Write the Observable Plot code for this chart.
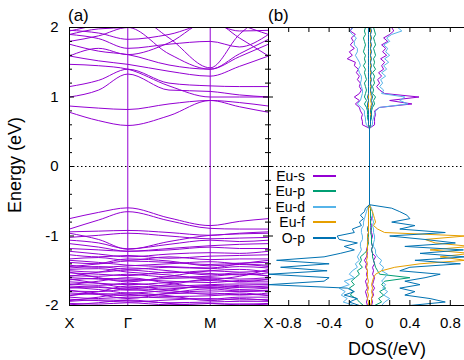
<!DOCTYPE html>
<html><head><meta charset="utf-8">
<script src="https://cdn.jsdelivr.net/npm/d3@7"></script>
<script src="https://cdn.jsdelivr.net/npm/@observablehq/plot@0.6"></script>
<style>
html,body{margin:0;padding:0;background:#fff;overflow:hidden;}
#wrap{position:relative;width:464px;height:360px;overflow:hidden;font-family:"Liberation Sans",Arial,Helvetica,sans-serif;color:#000;}
#wrap svg{position:absolute;top:0;}
.lbl{position:absolute;white-space:nowrap;color:#000;}
</style></head><body><div id="wrap"></div>
<script>
// ---------- band structure data ----------
const kLabels = ["X", "Γ", "M", "X"];
const kTicks = [0, 1, 2.4142, 3.4142];
const kNodes = [0, 0.5, 1, 1.7071, 2.4142, 2.9142, 3.4142];
const conductionBands = [
  [0.78, 0.66, 0.59, 0.73, 0.95, 0.86, 0.78],
  [0.87, 0.84, 0.82, 0.90, 0.95, 0.92, 0.87],
  [1.00, 1.10, 1.33, 1.10, 1.08, 1.03, 1.00],
  [1.15, 1.24, 1.40, 1.20, 1.16, 1.15, 1.15],
  [1.47, 1.45, 1.40, 1.16, 1.00, 1.00, 1.00],
  [1.59, 1.52, 1.47, 1.37, 1.30, 1.44, 1.59],
  [1.76, 1.66, 1.61, 1.46, 1.40, 1.58, 1.76],
  [1.80, 1.88, 2.00, 1.62, 1.40, 1.62, 1.83],
  [1.95, 2.05, 2.20, 1.85, 1.42, 1.90, 2.20],
  [1.90, 1.84, 1.70, 1.76, 1.80, 1.72, 1.90],
  [1.96, 1.92, 1.83, 1.90, 2.05, 1.95, 1.96],
  [2.15, 2.05, 2.00, 2.10, 2.20, 2.10, 2.15],
  [1.59, 1.70, 1.61, 1.78, 2.10, 1.85, 1.59],
  [1.90, 1.98, 2.00, 2.05, 2.25, 2.05, 1.90]
];
const valenceBands = [
  [-0.75, -0.66, -0.595, -0.74, -0.85, -0.79, -0.75],
  [-0.90, -0.77, -0.65, -0.78, -0.89, -0.90, -0.90],
  [-0.94, -0.93, -0.92, -0.95, -0.99, -0.96, -0.94],
  [-1.02, -0.99, -0.96, -1.00, -1.04, -1.03, -1.02],
  [-0.96, -1.05, -1.19, -1.08, -0.99, -0.97, -0.96],
  [-1.06, -1.10, -1.185, -1.12, -1.06, -1.08, -1.06],
  [-1.11, -1.16, -1.22, -1.18, -1.14, -1.12, -1.11],
  [-1.18, -1.20, -1.22, -1.20, -1.16, -1.18, -1.18],
  [-1.22, -1.26, -1.30, -1.26, -1.24, -1.25, -1.22],
  [-1.27, -1.30, -1.28, -1.32, -1.29, -1.28, -1.27],
  [-1.33, -1.31, -1.35, -1.30, -1.34, -1.33, -1.33],
  [-1.38, -1.40, -1.36, -1.38, -1.41, -1.39, -1.38],
  [-1.42, -1.45, -1.43, -1.40, -1.37, -1.40, -1.42],
  [-1.46, -1.44, -1.48, -1.45, -1.47, -1.44, -1.46],
  [-1.50, -1.52, -1.49, -1.53, -1.50, -1.52, -1.50],
  [-1.53, -1.55, -1.57, -1.52, -1.54, -1.56, -1.53],
  [-1.57, -1.58, -1.55, -1.59, -1.58, -1.55, -1.57],
  [-1.60, -1.62, -1.64, -1.61, -1.60, -1.62, -1.60],
  [-1.63, -1.61, -1.62, -1.65, -1.67, -1.64, -1.63],
  [-1.66, -1.68, -1.70, -1.67, -1.64, -1.66, -1.66],
  [-1.69, -1.71, -1.68, -1.72, -1.70, -1.69, -1.69],
  [-1.72, -1.74, -1.76, -1.73, -1.75, -1.74, -1.72],
  [-1.75, -1.73, -1.78, -1.76, -1.73, -1.77, -1.75],
  [-1.79, -1.80, -1.77, -1.81, -1.79, -1.80, -1.79],
  [-1.82, -1.84, -1.86, -1.83, -1.82, -1.85, -1.82],
  [-1.85, -1.83, -1.84, -1.87, -1.86, -1.84, -1.85],
  [-1.88, -1.90, -1.88, -1.89, -1.91, -1.88, -1.88],
  [-1.91, -1.93, -1.95, -1.92, -1.90, -1.92, -1.91],
  [-1.94, -1.92, -1.93, -1.96, -1.95, -1.94, -1.94],
  [-1.97, -1.98, -1.96, -1.99, -1.97, -1.98, -1.97],
  [-1.44, -1.40, -1.33, -1.36, -1.43, -1.41, -1.44],
  [-1.58, -1.52, -1.46, -1.50, -1.56, -1.53, -1.58],
  [-1.52, -1.60, -1.66, -1.58, -1.50, -1.48, -1.52],
  [-1.70, -1.65, -1.60, -1.68, -1.74, -1.71, -1.70],
  [-1.78, -1.84, -1.90, -1.82, -1.76, -1.79, -1.78],
  [-1.62, -1.68, -1.74, -1.70, -1.62, -1.66, -1.62],
  [-1.86, -1.80, -1.72, -1.78, -1.84, -1.82, -1.86],
  [-1.35, -1.38, -1.42, -1.44, -1.46, -1.40, -1.35],
  [-1.48, -1.47, -1.52, -1.56, -1.62, -1.58, -1.48],
  [-1.93, -1.88, -1.82, -1.86, -1.93, -1.90, -1.93],
  [-1.99, -1.96, -1.92, -1.97, -2.00, -1.98, -1.99],
  [-1.74, -1.77, -1.82, -1.78, -1.71, -1.73, -1.74]
];

// ---------- DOS data ----------
const dosE = [-2.00,-1.95,-1.90,-1.85,-1.80,-1.75,-1.70,-1.65,-1.60,-1.55,-1.50,-1.45,-1.40,-1.35,-1.30,-1.25,-1.20,-1.15,-1.10,-1.05,-1.00,-0.95,-0.90,-0.85,-0.80,-0.75,-0.70,-0.65,-0.60,-0.55,
  0.55,0.60,0.65,0.70,0.75,0.80,0.85,0.90,0.95,1.00,1.05,1.10,1.15,1.20,1.25,1.30,1.35,1.40,1.45,1.50,1.55,1.60,1.65,1.70,1.75,1.80,1.85,1.90,1.95,2.00];
const euSUp = [0.02,0.03,0.02,0.04,0.03,0.05,0.03,0.04,0.05,0.03,0.04,0.03,0.05,0.04,0.06,0.03,0.02,0.03,0.02,0.02,0.03,0.02,0.01,0.02,0.01,0.02,0.01,0.01,0.01,0,
  0,0.05,0.05,0.05,0.06,0.05,0.10,0.42,0.20,0.49,0.15,0.10,0.07,0.10,0.08,0.12,0.09,0.14,0.12,0.15,0.11,0.17,0.13,0.16,0.12,0.18,0.14,0.20,0.24,0.22];
const euSDown = [-0.02,-0.03,-0.02,-0.03,-0.04,-0.02,-0.03,-0.04,-0.02,-0.03,-0.02,-0.04,-0.03,-0.05,-0.03,-0.02,-0.03,-0.02,-0.02,-0.01,-0.02,-0.01,-0.02,-0.01,-0.01,-0.01,-0.01,-0.01,-0.01,0,
  0,-0.07,-0.07,-0.08,-0.07,-0.09,-0.10,-0.14,-0.10,-0.15,-0.10,-0.08,-0.10,-0.09,-0.12,-0.10,-0.13,-0.11,-0.15,-0.14,-0.22,-0.17,-0.20,-0.15,-0.19,-0.16,-0.18,-0.14,-0.19,-0.17];
const euPUp = [0.05,0.12,0.09,0.14,0.10,0.16,0.12,0.15,0.40,0.10,0.08,0.06,0.05,0.04,0.03,0.03,0.02,0.03,0.02,0.02,0.02,0.01,0.02,0.01,0.01,0.01,0.01,0.01,0.01,0,
  0,0.01,0.01,0.02,0.02,0.02,0.03,0.05,0.04,0.06,0.03,0.04,0.03,0.05,0.04,0.05,0.03,0.06,0.04,0.05,0.04,0.06,0.05,0.04,0.06,0.05,0.04,0.06,0.05,0.04];
const euPDown = [-0.06,-0.10,-0.13,-0.19,-0.16,-0.20,-0.15,-0.18,-0.14,-0.10,-0.12,-0.07,-0.10,-0.08,-0.09,-0.05,-0.02,-0.02,-0.01,-0.02,-0.01,-0.01,-0.02,-0.01,-0.01,-0.01,-0.01,-0.01,-0.01,0,
  0,-0.01,-0.01,-0.02,-0.02,-0.02,-0.03,-0.05,-0.03,-0.05,-0.04,-0.03,-0.04,-0.05,-0.03,-0.04,-0.05,-0.04,-0.06,-0.04,-0.05,-0.04,-0.06,-0.05,-0.04,-0.05,-0.06,-0.04,-0.05,-0.04];
const euDUp = [0.12,0.15,0.20,0.14,0.18,0.13,0.16,0.12,0.15,0.18,0.12,0.14,0.10,0.12,0.08,0.06,0.06,0.04,0.04,0.05,0.05,0.04,0.04,0.03,0.04,0.03,0.03,0.03,0.02,0,
  0,0.03,0.03,0.04,0.05,0.06,0.10,0.38,0.30,0.35,0.12,0.14,0.10,0.13,0.11,0.16,0.12,0.17,0.14,0.19,0.15,0.20,0.16,0.18,0.14,0.20,0.17,0.22,0.32,0.28];
const euDDown = [-0.15,-0.26,-0.22,-0.28,-0.24,-0.30,-0.20,-0.25,-0.15,-0.20,-0.17,-0.12,-0.14,-0.10,-0.12,-0.10,-0.08,-0.09,-0.09,-0.07,-0.07,-0.08,-0.08,-0.06,-0.06,-0.05,-0.04,-0.03,-0.02,0,
  0,-0.03,-0.04,-0.04,-0.05,-0.05,-0.08,-0.12,-0.09,-0.08,-0.07,-0.07,-0.08,-0.09,-0.08,-0.08,-0.10,-0.11,-0.09,-0.10,-0.12,-0.14,-0.12,-0.12,-0.15,-0.15,-0.13,-0.17,-0.20,-0.16];
const euFUp = [0.01,0.02,0.02,0.03,0.02,0.03,0.02,0.03,0.04,0.06,0.12,0.25,0.50,0.95,0.70,1.00,0.60,1.00,0.65,0.55,0.95,0.15,0.08,0.04,0.06,0.05,0.04,0.03,0.01,0,
  0,0.01,0.01,0.01,0.01,0.01,0.01,0.02,0.01,0.02,0.01,0.01,0.01,0.01,0.01,0.01,0.01,0.01,0.01,0.01,0.01,0.01,0.01,0.01,0.01,0.01,0.01,0.01,0.01,0.01];
const euFDown = [-0.01,-0.01,-0.02,-0.01,-0.02,-0.01,-0.02,-0.01,-0.02,-0.02,-0.02,-0.03,-0.02,-0.03,-0.02,-0.03,-0.02,-0.02,-0.02,-0.01,-0.02,-0.01,-0.01,-0.01,-0.01,-0.01,-0.01,-0.01,-0.01,0,
  0,-0.01,-0.01,-0.01,-0.01,-0.01,-0.01,-0.01,-0.01,-0.01,-0.01,-0.01,-0.01,-0.01,-0.01,-0.01,-0.01,-0.01,-0.01,-0.01,-0.01,-0.01,-0.01,-0.01,-0.01,-0.01,-0.01,-0.01,-0.01,-0.01];
const oPUp = [0.40,0.75,0.60,0.35,0.45,0.30,0.50,0.35,0.55,0.70,0.30,0.40,0.90,0.45,0.95,0.50,0.93,0.35,0.85,0.55,0.20,0.75,0.30,0.45,0.22,0.40,0.37,0.30,0.22,0,
  0,0.01,0.01,0.01,0.02,0.01,0.02,0.03,0.02,0.03,0.02,0.01,0.02,0.01,0.02,0.01,0.02,0.01,0.02,0.01,0.02,0.01,0.02,0.01,0.02,0.01,0.02,0.01,0.02,0.01];
const oPDown = [-0.10,-0.20,-0.12,-0.25,-0.15,-0.22,-1.00,-0.45,-0.40,-1.00,-0.42,-0.88,-0.40,-0.92,-0.45,-0.29,-0.15,-0.25,-0.12,-0.30,-0.32,-0.15,-0.17,-0.08,-0.10,-0.06,-0.09,-0.05,-0.04,0,
  0,-0.01,-0.01,-0.01,-0.01,-0.01,-0.02,-0.02,-0.01,-0.02,-0.01,-0.01,-0.01,-0.01,-0.01,-0.01,-0.01,-0.01,-0.01,-0.01,-0.01,-0.01,-0.01,-0.01,-0.01,-0.01,-0.01,-0.01,-0.01,-0.01];
const seriesNames = ["Eu-s", "Eu-p", "Eu-d", "Eu-f", "O-p"];
const seriesColors = ["#9400d3", "#009e73", "#56b4e9", "#e69f00", "#0072b2"];
const seriesUp = [euSUp, euPUp, euDUp, euFUp, oPUp];
const seriesDown = [euSDown, euPDown, euDDown, euFDown, oPDown];

// ---------- ticks ----------
const eMajor = [-2, -1, 0, 1, 2];
const eMinor = [-1.8,-1.6,-1.4,-1.2,-0.8,-0.6,-0.4,-0.2,0.2,0.4,0.6,0.8,1.2,1.4,1.6,1.8];
const dosMajor = [-0.8, -0.4, 0, 0.4, 0.8];
const dosMinor = [-0.6, -0.2, 0.2, 0.6];

const FONT = '"Liberation Sans", Arial, Helvetica, sans-serif';
const BAND = "#9400d3";
const H = 360, mT = 27, mB = 55, ph = H - mT - mB;
const W1 = 270, mL1 = 69, mR1 = 2, pw1 = W1 - mL1 - mR1;
const W2 = 202, pw2 = W2;
const wrap = document.getElementById("wrap");

const bandData = conductionBands.concat(valenceBands)
  .flatMap((vals, b) => vals.map((E, j) => ({band: b, k: kNodes[j], E})));

const left = Plot.plot({
  width: W1, height: H, marginLeft: mL1, marginRight: mR1, marginTop: mT, marginBottom: mB,
  style: {fontFamily: FONT, fontSize: "15px", background: "transparent", overflow: "visible"},
  x: {domain: [kTicks[0], kTicks[kTicks.length - 1]], label: null},
  y: {domain: [-2, 2], label: null},
  marks: [
    Plot.line(bandData, {x: "k", y: "E", z: "band", stroke: BAND, strokeWidth: 1, curve: "monotone-x", clip: true}),
    Plot.ruleX(kTicks.slice(1, -1), {stroke: BAND, strokeWidth: 1}),
    Plot.ruleY([0], {stroke: "#000", strokeDasharray: "1.5,2.5"}),
    Plot.tickY(eMajor, {y: d => d, insetRight: pw1 - 5, stroke: "#000"}),
    Plot.tickY(eMajor, {y: d => d, insetLeft: pw1 - 5, stroke: "#000"}),
    Plot.tickY(eMinor, {y: d => d, insetRight: pw1 - 3, stroke: "#000"}),
    Plot.tickY(eMinor, {y: d => d, insetLeft: pw1 - 3, stroke: "#000"}),
    Plot.frame({stroke: "#000"}),
    Plot.axisY(eMajor, {tickSize: 0, tickPadding: 11, tickFormat: d => String(d), fontSize: 15, label: null}),
    Plot.axisX(kTicks, {tickSize: 0, tickPadding: 12, tickFormat: d => kLabels[kTicks.indexOf(d)], fontSize: 15, label: null})
  ]
});
left.style.left = "0px";
wrap.appendChild(left);

const dosMarks = [];
seriesNames.forEach((name, s) => {
  [seriesDown[s], seriesUp[s]].forEach((vals) => {
    const data = vals.map((v, i) => ({E: dosE[i], v}));
    dosMarks.push(Plot.line(data, {x: "v", y: "E", stroke: seriesColors[s], strokeWidth: 1, clip: true}));
  });
});

const right = Plot.plot({
  width: W2, height: H, marginLeft: 0, marginRight: 0, marginTop: mT, marginBottom: mB,
  style: {fontFamily: FONT, fontSize: "15px", background: "transparent", overflow: "visible"},
  x: {domain: [-1, 1], label: null},
  y: {domain: [-2, 2], label: null, axis: null},
  marks: [
    ...dosMarks,
    Plot.ruleY([0], {stroke: "#000", strokeDasharray: "1.5,2.5"}),
    Plot.tickY(eMajor, {y: d => d, insetRight: pw2 - 5, stroke: "#000"}),
    Plot.tickY(eMinor, {y: d => d, insetRight: pw2 - 3, stroke: "#000"}),
    Plot.tickX(dosMajor.concat(dosMinor), {x: d => d, insetBottom: ph - 5, stroke: "#000"}),
    Plot.tickX(dosMajor.concat(dosMinor), {x: d => d, insetTop: ph - 5, stroke: "#000"}),
    Plot.frame({stroke: "#000"}),
    Plot.axisX(dosMajor, {tickSize: 0, tickPadding: 12, tickFormat: d => String(d), fontSize: 15, label: null})
  ]
});
right.style.left = "268px";
wrap.appendChild(right);

function label(text, css) {
  const d = document.createElement("div");
  d.className = "lbl";
  d.textContent = text;
  Object.assign(d.style, css);
  wrap.appendChild(d);
  return d;
}
label("(a)", {left: "68px", top: "7px", fontSize: "17px", lineHeight: "17px"});
label("(b)", {left: "268px", top: "7px", fontSize: "17px", lineHeight: "17px"});
label("Energy (eV)", {left: "15px", top: "165px", fontSize: "18px", lineHeight: "18px", transform: "translate(-50%,-50%) rotate(-90deg)"});
label("DOS(/eV)", {left: "387px", top: "340px", fontSize: "18px", lineHeight: "18px", transform: "translateX(-50%)"});

seriesNames.forEach((name, i) => {
  const y = Math.round(175.5 + 15.5 * i);
  label(name, {right: (464 - 305) + "px", top: (y - 7) + "px", fontSize: "14px", lineHeight: "14px", textAlign: "right"});
  const ln = document.createElement("div");
  Object.assign(ln.style, {position: "absolute", left: "313px", width: "23px", top: (y - 1) + "px", height: "2px", background: seriesColors[i]});
  wrap.appendChild(ln);
});
</script></body></html>
